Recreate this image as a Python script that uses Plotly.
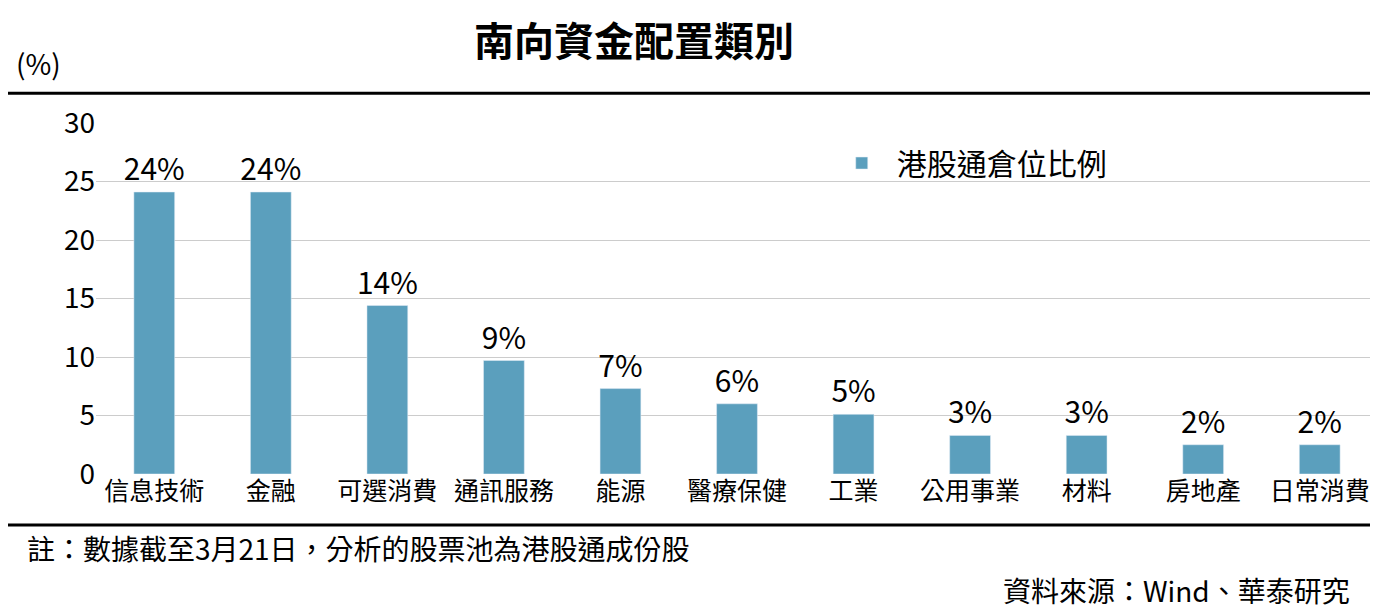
import plotly.graph_objects as go

categories = ["信息技術", "金融", "可選消費", "通訊服務", "能源", "醫療保健",
              "工業", "公用事業", "材料", "房地產", "日常消費"]
values = [24.1, 24.1, 14.4, 9.7, 7.3, 6.0, 5.1, 3.3, 3.3, 2.5, 2.5]
labels = ["24%", "24%", "14%", "9%", "7%", "6%", "5%", "3%", "3%", "2%", "2%"]
yticks = [0, 5, 10, 15, 20, 25, 30]

FONT = "Noto Sans CJK TC"

fig = go.Figure(go.Bar(
    x=categories, y=values, text=labels, textposition="outside",
    textfont=dict(size=30, color="black", family=FONT),
    marker_color="#5b9fbd", width=0.35, name="港股通倉位比例",
    cliponaxis=False, constraintext="none",
))

fig.update_layout(
    width=1378, height=611,
    margin=dict(l=88, r=8, t=115, b=145, autoexpand=False),
    paper_bgcolor="white", plot_bgcolor="white",
    font=dict(family=FONT, color="black"),
    showlegend=True,
    legend=dict(x=0.57, y=0.96, xanchor="left", yanchor="top",
                font=dict(size=30), bgcolor="rgba(0,0,0,0)", itemwidth=60),
    yaxis=dict(range=[0, 30], tickvals=yticks, showgrid=True, automargin=False,
               gridcolor="#cccccc", tickfont=dict(size=28), ticks="",
               zeroline=False, showline=False),
    xaxis=dict(tickfont=dict(size=25), showline=False, ticks="", automargin=False),
    bargap=0.6,
)

fig.add_annotation(text="<b>南向資金配置類別</b>", xref="paper", yref="paper",
                   x=0.42, y=1.24, xanchor="center", yanchor="middle",
                   showarrow=False, font=dict(size=40))
fig.add_annotation(text="(%)", xref="paper", yref="paper", x=-0.045, y=1.17,
                   xanchor="center", yanchor="middle", showarrow=False,
                   font=dict(size=28))
fig.add_annotation(text="註：數據截至3月21日，分析的股票池為港股通成份股",
                   xref="paper", yref="paper", x=-0.055, y=-0.21,
                   xanchor="left", yanchor="middle", showarrow=False,
                   font=dict(size=28))
fig.add_annotation(text="資料來源：Wind、華泰研究",
                   xref="paper", yref="paper", x=0.98, y=-0.33,
                   xanchor="right", yanchor="middle", showarrow=False,
                   font=dict(size=28))

for yy in [1.085, -0.145]:
    fig.add_shape(type="line", xref="paper", yref="paper",
                  x0=-0.07, x1=1.01, y0=yy, y1=yy,
                  line=dict(color="black", width=3))

fig.write_html("out.html")
